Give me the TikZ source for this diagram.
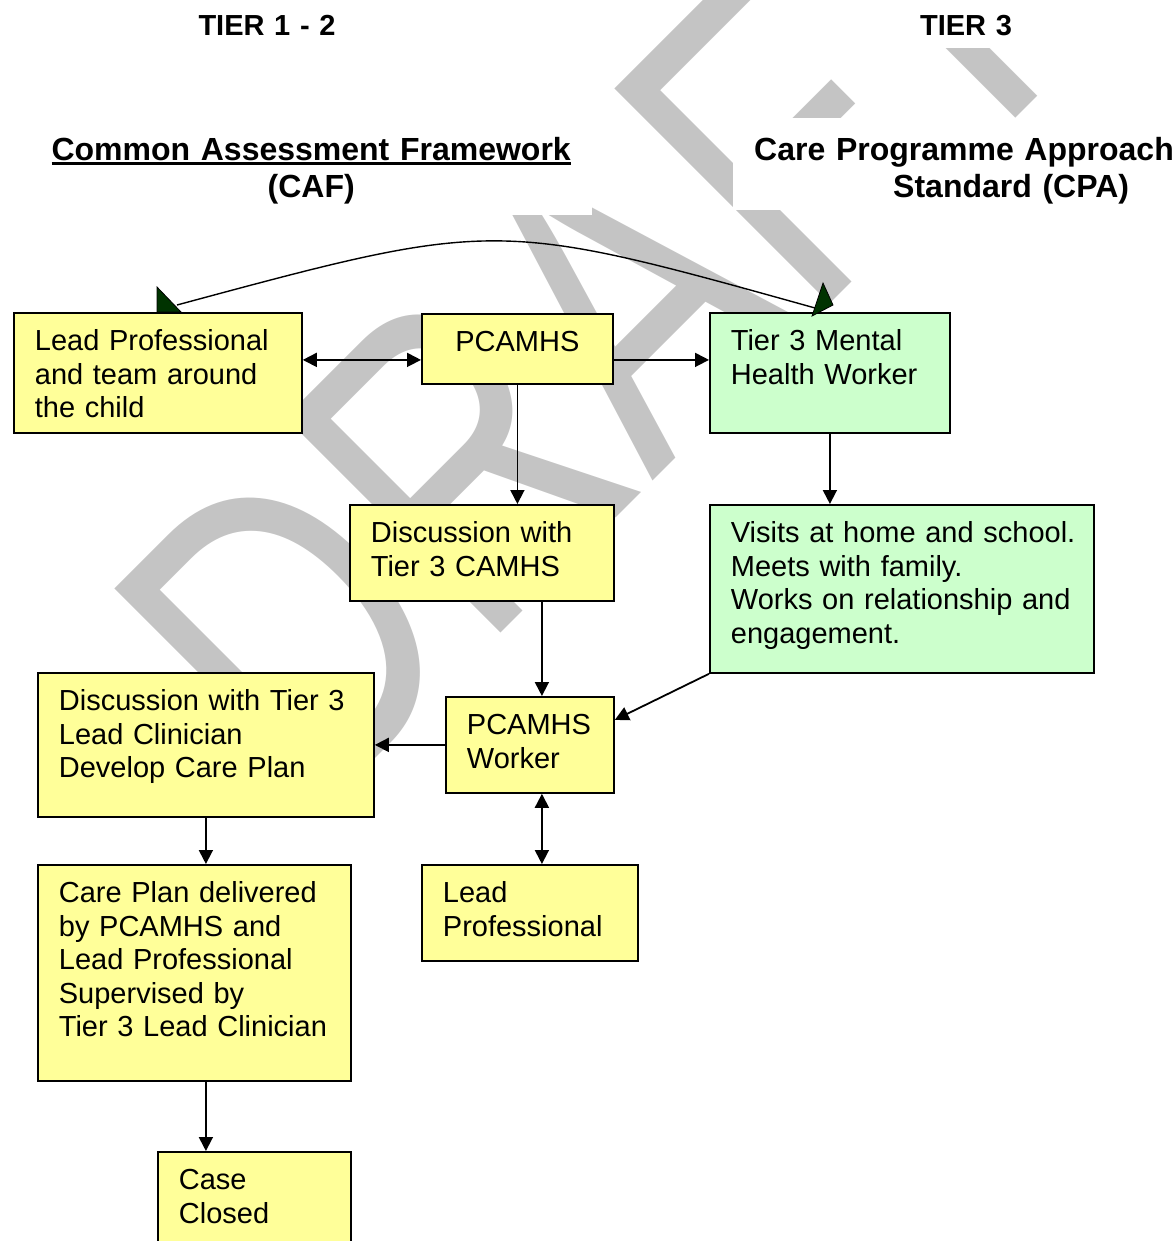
\documentclass[tikz,border=0pt]{standalone}
\usepackage{fontspec}
\setmainfont{Liberation Sans}
\usetikzlibrary{arrows.meta,calc}

\definecolor{boxyellow}{RGB}{255,255,153}
\definecolor{boxgreen}{RGB}{204,255,204}
\definecolor{tipgreen}{RGB}{0,51,0}
\definecolor{wmgray}{gray}{0.77}

\newcommand{\boxfont}{\fontsize{29}{33.6}\selectfont}
\newcommand{\headfont}{\fontsize{32}{37}\selectfont\bfseries}
\newcommand{\tierfont}{\fontsize{29}{33}\selectfont\bfseries}
\newcommand{\ulhead}[1]{\setbox0=\hbox{#1}\rlap{\rule[-5pt]{\wd0}{2.8pt}}\box0}

\tikzset{
  tbox/.style={draw=black,line width=1.8pt,anchor=north west,inner sep=0pt,
    text height=37.5pt,font=\boxfont},
  lpad/.style={align=left,execute at begin node={\leftskip=21pt}},
  ybox/.style={tbox,lpad,fill=boxyellow},
  gbox/.style={tbox,lpad,fill=boxgreen},
  cbox/.style={tbox,align=center,fill=boxyellow},
  headnode/.style={fill=white,anchor=north west,inner sep=0pt,text height=42pt,font=\headfont},
  tier/.style={fill=white,anchor=base,inner xsep=20pt,inner ysep=0pt,text width=150pt,align=center,
    text height=36pt,text depth=12pt,font=\tierfont},
  wmark/.style={anchor=base west,inner sep=0pt,rotate=45,yscale=1.32,text=wmgray,
    font=\fontsize{335}{335}\selectfont},
  conn/.style={line width=1.8pt,-{Triangle[length=14pt,width=14pt]}},
  dconn/.style={line width=1.8pt,{Triangle[length=14pt,width=14pt]}-{Triangle[length=14pt,width=14pt]}},
  gtip/.style={fill=tipgreen,draw=black,line width=0.8pt}
}

\begin{document}
\begin{tikzpicture}[x=1pt,y=-1pt]
\useasboundingbox (0,0) rectangle (1175,1241);
\clip (0,0) rectangle (1175,1241);

\node[wmark] (draft) at (310,824) {DRAFT};

\node[tier] (tierlow) at (267,36) {TIER 1 - 2};
\node[tier] (tierhigh) at (966,36) {TIER 3};
\node[headnode,text width=562pt,align=center,text depth=55pt] (caf) at (30,118)
  {\ulhead{Common Assessment Framework}\\(CAF)};
\node[headnode,lpad,text width=442pt,text depth=50pt] (cpa) at (733,118)
  {Care Programme Approach\\\hspace*{139pt}Standard (CPA)};

\node[ybox,text width=288pt,text depth=82.5pt] (lpchild) at (13,312) {Lead Professional\\and team around\\the child};
\node[cbox,text width=191pt,text depth=32.5pt] (pcamhs) at (421,313) {PCAMHS};
\node[gbox,text width=240pt,text depth=82.5pt] (t3mhw) at (709,312) {Tier 3 Mental\\Health Worker};
\node[ybox,text width=264pt,text depth=58.5pt] (disccamhs) at (349,504) {Discussion with\\Tier 3 CAMHS};
\node[gbox,text width=384pt,text depth=130.5pt] (visits) at (709,504)
  {Visits at home and school.\\Meets with family.\\Works on relationship and\\engagement.};
\node[ybox,text width=168pt,text depth=58.5pt] (pworker) at (445,696) {PCAMHS\\Worker};
\node[ybox,text width=336pt,text depth=106.5pt] (disclead) at (37,672)
  {Discussion with Tier 3\\Lead Clinician\\Develop Care Plan};
\node[ybox,text width=313pt,text depth=178.5pt] (careplan) at (37,864)
  {Care Plan delivered\\by PCAMHS and\\Lead Professional\\Supervised by\\Tier 3 Lead Clinician};
\node[ybox,text width=216pt,text depth=58.5pt] (leadprof) at (421,864) {Lead\\Professional};
\node[ybox,text width=193pt,text depth=92.5pt] (caseclosed) at (157,1151) {Case\\Closed};

\draw[dconn] ([yshift=13pt]lpchild.east) -- ([yshift=13pt]lpchild.east -| pcamhs.west);
\draw[conn] ([yshift=-11pt]pcamhs.east) -- ([yshift=-11pt]pcamhs.east -| t3mhw.west);
\draw[conn] (pcamhs.south) -- (pcamhs.south |- disccamhs.north);
\draw[conn] (t3mhw.south) -- (t3mhw.south |- visits.north);
\coordinate (pwtop) at ([xshift=12pt]pworker.north);
\draw[conn] (disccamhs.south -| pwtop) -- (pwtop);
\draw[conn] (visits.south west) -- ([yshift=25pt]pworker.east);
\draw[conn] (pworker.west) -- (pworker.west -| disclead.east);
\draw[dconn] ([xshift=12pt]pworker.south) -- ([xshift=12pt]pworker.south |- leadprof.north);
\draw[conn] (disclead.south) -- (disclead.south |- careplan.north);
\draw[conn] ([xshift=11.5pt]careplan.south) -- ([xshift=11.5pt]careplan.south |- caseclosed.north);

\draw[line width=1.4pt] ([shift={(164,-7)}]lpchild.north west) .. controls (496,219) .. ([shift={(106,-4)}]t3mhw.north west);
\filldraw[gtip] ([shift={(144,0)}]lpchild.north west) -- ++(0,-25) -- ++(24,25) -- cycle;
\filldraw[gtip] ([shift={(103,4)}]t3mhw.north west) -- ++(11,-33) -- ++(10,22) -- cycle;
\end{tikzpicture}
\end{document}
